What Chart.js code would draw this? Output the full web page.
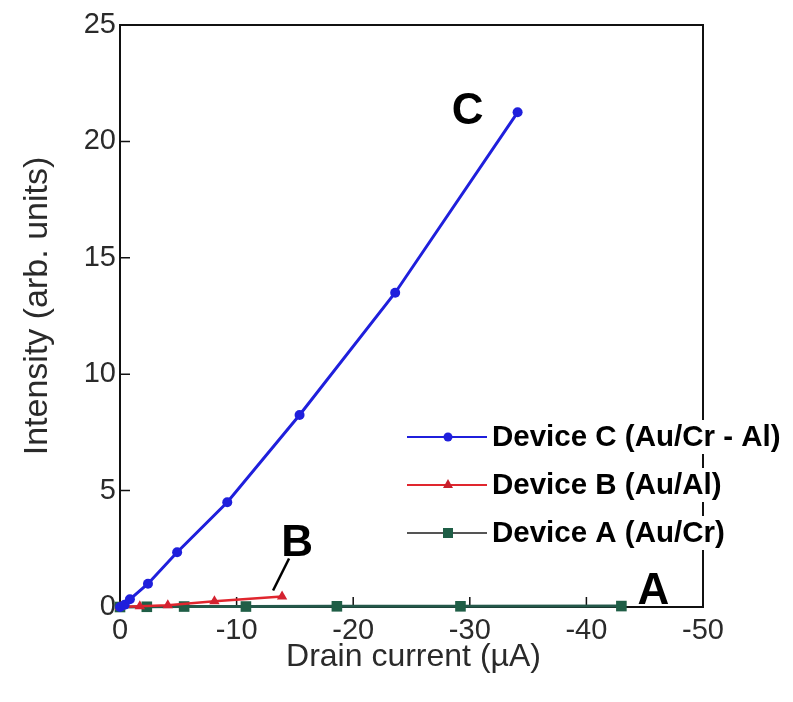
<!DOCTYPE html>
<html>
<head>
<meta charset="utf-8">
<script src="https://cdn.jsdelivr.net/npm/chart.js@4.4.1/dist/chart.umd.min.js"></script>
<style>
  html, body { margin: 0; padding: 0; background: #ffffff; }
  #wrap { width: 793px; height: 702px; position: relative; }
</style>
</head>
<body>
<div id="wrap"><canvas id="chart" width="793" height="702"></canvas></div>
<script>
// Drain current (µA) and emitted intensity (arb. units) per device
const deviceCCurrent   = [0, -0.4, -0.85, -2.4, -4.9, -9.2, -15.4, -23.6, -34.1];
const deviceCIntensity = [0, 0.1, 0.33, 1.0, 2.35, 4.5, 8.25, 13.5, 21.25];

const deviceBCurrent   = [0, -1.7, -4.1, -8.1, -13.9];
const deviceBIntensity = [0, 0.03, 0.08, 0.25, 0.45];

const deviceACurrent   = [0, -2.3, -5.5, -10.8, -18.6, -29.2, -43.0];
const deviceAIntensity = [0, 0.01, 0.02, 0.02, 0.03, 0.03, 0.04];

const seriesNames = ['Device C (Au/Cr - Al)', 'Device B (Au/Al)', 'Device A (Au/Cr)'];
const seriesTags  = ['C', 'B', 'A'];

const xTicks = [0, -10, -20, -30, -40, -50];
const yTicks = [0, 5, 10, 15, 20, 25];

const xTitle = 'Drain current (µA)';
const yTitle = 'Intensity (arb. units)';

const pairs = (xs, ys) => xs.map((x, i) => ({ x: x, y: ys[i] }));

const BLUE = '#1f1fdc';
const RED = '#e0262e';
const GREEN = '#1f5e46';
const FAMILY = '"Liberation Sans", Arial, sans-serif';

// Frame, inward tick marks, axis titles
const framePlugin = {
  id: 'frame',
  beforeDatasetsDraw(chart) {
    const { ctx, chartArea: a, scales } = chart;
    ctx.save();
    ctx.strokeStyle = '#111';
    ctx.lineWidth = 2;
    ctx.strokeRect(a.left, a.top, a.right - a.left, a.bottom - a.top);
    ctx.lineWidth = 1.5;
    ctx.beginPath();
    xTicks.forEach(v => {
      const px = scales.x.getPixelForValue(v);
      ctx.moveTo(px, a.bottom);
      ctx.lineTo(px, a.bottom - 10);
    });
    yTicks.forEach(v => {
      const py = scales.y.getPixelForValue(v);
      ctx.moveTo(a.left, py);
      ctx.lineTo(a.left + 10, py);
    });
    ctx.stroke();

    ctx.fillStyle = '#2a2a2a';
    ctx.textAlign = 'center';
    ctx.textBaseline = 'middle';
    ctx.font = '32px ' + FAMILY;
    ctx.fillText(xTitle, (a.left + a.right) / 2 + 2, 657);
    ctx.save();
    ctx.translate(38, (a.top + a.bottom) / 2 - 10);
    ctx.rotate(-Math.PI / 2);
    ctx.font = '34px ' + FAMILY;
    ctx.fillText(yTitle, 0, 0);
    ctx.restore();
    ctx.restore();
  }
};

// Curve tags, leader line and legend
const notesPlugin = {
  id: 'notes',
  afterDatasetsDraw(chart) {
    const { ctx, scales } = chart;
    const x = scales.x, y = scales.y;
    const lastPx = (xs, ys) => ({
      x: x.getPixelForValue(xs[xs.length - 1]),
      y: y.getPixelForValue(ys[ys.length - 1])
    });
    const c = lastPx(deviceCCurrent, deviceCIntensity);
    const b = lastPx(deviceBCurrent, deviceBIntensity);
    const aP = lastPx(deviceACurrent, deviceAIntensity);

    ctx.save();
    ctx.fillStyle = '#000';
    ctx.font = 'bold 44px ' + FAMILY;
    ctx.textAlign = 'center';
    ctx.textBaseline = 'middle';
    ctx.fillText(seriesTags[0], c.x - 50, c.y);
    ctx.fillText(seriesTags[1], b.x + 15, b.y - 53);
    ctx.fillText(seriesTags[2], aP.x + 32, aP.y - 14);

    ctx.strokeStyle = '#000';
    ctx.lineWidth = 2.5;
    ctx.beginPath();
    ctx.moveTo(b.x + 7, b.y - 38);
    ctx.lineTo(b.x - 9, b.y - 6);
    ctx.stroke();

    // legend
    const rows = [
      { name: seriesNames[0], line: BLUE, fill: BLUE, shape: 'circle', lw: 2 },
      { name: seriesNames[1], line: RED, fill: '#c8202c', shape: 'triangle', lw: 2 },
      { name: seriesNames[2], line: '#555', fill: GREEN, shape: 'square', lw: 2 }
    ];
    const x0 = 407, x1 = 487, mx = 448, tx = 492;
    const y0 = 437, dy = 48;
    ctx.font = 'bold 29.5px ' + FAMILY;
    ctx.textAlign = 'left';
    rows.forEach((r, i) => {
      const cy = y0 + i * dy;
      ctx.strokeStyle = r.line;
      ctx.lineWidth = r.lw;
      ctx.beginPath();
      ctx.moveTo(x0, cy);
      ctx.lineTo(x1, cy);
      ctx.stroke();
      ctx.fillStyle = r.fill;
      ctx.beginPath();
      if (r.shape === 'circle') {
        ctx.arc(mx, cy, 4.5, 0, Math.PI * 2);
      } else if (r.shape === 'triangle') {
        ctx.moveTo(mx, cy - 6);
        ctx.lineTo(mx + 5, cy + 3);
        ctx.lineTo(mx - 5, cy + 3);
        ctx.closePath();
      } else {
        ctx.rect(mx - 5, cy - 5, 10, 10);
      }
      ctx.fill();
      const w = ctx.measureText(r.name).width;
      ctx.fillStyle = '#fff';
      ctx.fillRect(tx - 1, cy - 17, w + 2, 34);
      ctx.fillStyle = '#000';
      ctx.fillText(r.name, tx, cy + 1);
    });
    ctx.restore();
  }
};

new Chart(document.getElementById('chart'), {
  type: 'line',
  data: {
    datasets: [
      {
        label: seriesNames[0],
        data: pairs(deviceCCurrent, deviceCIntensity),
        borderColor: BLUE, backgroundColor: BLUE,
        borderWidth: 3, pointRadius: 5, pointStyle: 'circle',
        pointBorderWidth: 0, clip: false
      },
      {
        label: seriesNames[1],
        data: pairs(deviceBCurrent, deviceBIntensity),
        borderColor: RED, backgroundColor: '#d42230',
        borderWidth: 2.5, pointRadius: 6, pointStyle: 'triangle',
        pointBorderWidth: 0, clip: false
      },
      {
        label: seriesNames[2],
        data: pairs(deviceACurrent, deviceAIntensity),
        borderColor: '#24584a', backgroundColor: GREEN,
        borderWidth: 3, pointRadius: 7.5, pointStyle: 'rect',
        pointBorderWidth: 0, clip: false
      }
    ]
  },
  options: {
    responsive: false,
    animation: false,
    events: [],
    layout: { padding: { top: 25, right: 90, left: 0, bottom: 0 } },
    plugins: { legend: { display: false }, tooltip: { enabled: false } },
    elements: { line: { tension: 0 } },
    scales: {
      x: {
        type: 'linear', reverse: true, min: -50, max: 0,
        afterBuildTicks: s => { s.ticks = xTicks.map(v => ({ value: v })); },
        afterFit: s => { s.height = 95; },
        grid: { display: false, drawTicks: false },
        border: { display: false },
        ticks: { font: { family: FAMILY, size: 29 }, color: '#2a2a2a', padding: 7, maxRotation: 0, autoSkip: false }
      },
      y: {
        type: 'linear', min: 0, max: 25,
        afterBuildTicks: s => { s.ticks = yTicks.map(v => ({ value: v })); },
        afterFit: s => { s.width = 120; },
        grid: { display: false, drawTicks: false },
        border: { display: false },
        ticks: { font: { family: FAMILY, size: 29 }, color: '#2a2a2a', padding: 4 }
      }
    }
  },
  plugins: [framePlugin, notesPlugin]
});
</script>
</body>
</html>
